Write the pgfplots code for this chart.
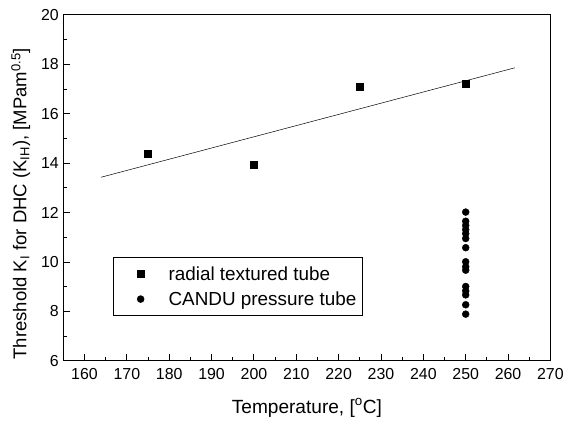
\documentclass[border=0pt]{standalone}
\usepackage{fontspec}
\setmainfont{Liberation Sans}
\usepackage{pgfplots}
\pgfplotsset{compat=1.18}

\begin{document}
\begin{tikzpicture}
\begin{axis}[
    scale only axis,
    width=490pt,
    height=348pt,
    xmin=155, xmax=270,
    ymin=6, ymax=20,
    xtick={160,170,...,270},
    ytick={6,8,...,20},
    minor x tick num=1,
    minor y tick num=1,
    tick align=inside,
    xtick pos=bottom,
    ytick pos=left,
    major tick length=7pt,
    minor tick length=4pt,
    axis line style={line width=1.1pt},
    tick style={line width=0.9pt, black},
    /pgf/number format/assume math mode=true,
    tick label style={font=\fontsize{16}{18}\selectfont},
    xticklabel style={yshift=-4pt},
    yticklabel style={xshift=-1pt},
    xlabel={Temperature, [\textsuperscript{o}C]},
    ylabel={Threshold K\textsubscript{I} for DHC (K\textsubscript{IH}), [MPam\textsuperscript{0.5}]},
    xlabel style={font=\fontsize{19.2}{22}\selectfont, yshift=-12pt},
    ylabel style={font=\fontsize{18.6}{21}\selectfont, yshift=4pt, xshift=-16pt},
    legend style={
        at={(0.101,0.13)}, anchor=south west,
        draw=black, line width=0.5pt,
        font=\fontsize{19}{21}\selectfont,
        row sep=6pt,
        inner xsep=4pt, inner ysep=7pt,
        legend cell align=left,
    },
    legend image code/.code={
        \draw[white, opacity=0, line width=0.1pt] (0pt,0pt) -- (50pt,0pt);
        \draw[#1] plot coordinates {(24pt,0pt)};},
]
\addplot[only marks, mark=square*, mark size=3.5pt, black] coordinates {
    (175, 14.40)
    (200, 13.94)
    (225, 17.09)
    (250, 17.20)
};
\addlegendentry{radial textured tube}
\addplot[only marks, mark=*, mark size=3.5pt, black] coordinates {
    (250, 12.02)
    (250, 11.65)
    (250, 11.48)
    (250, 11.31)
    (250, 11.15)
    (250, 10.95)
    (250, 10.58)
    (250, 10.01)
    (250, 9.81)
    (250, 9.67)
    (250, 9.01)
    (250, 8.83)
    (250, 8.67)
    (250, 8.27)
    (250, 7.89)
};
\addlegendentry{CANDU pressure tube}
\addplot[black, line width=0.5pt, forget plot] coordinates {
    (163.9, 13.43)
    (261.6, 17.86)
};
\end{axis}
\path ([xshift=-63.7pt,yshift=-60pt]current axis.south west)
      rectangle ([xshift=13pt,yshift=15pt]current axis.north east);
\end{tikzpicture}
\end{document}
